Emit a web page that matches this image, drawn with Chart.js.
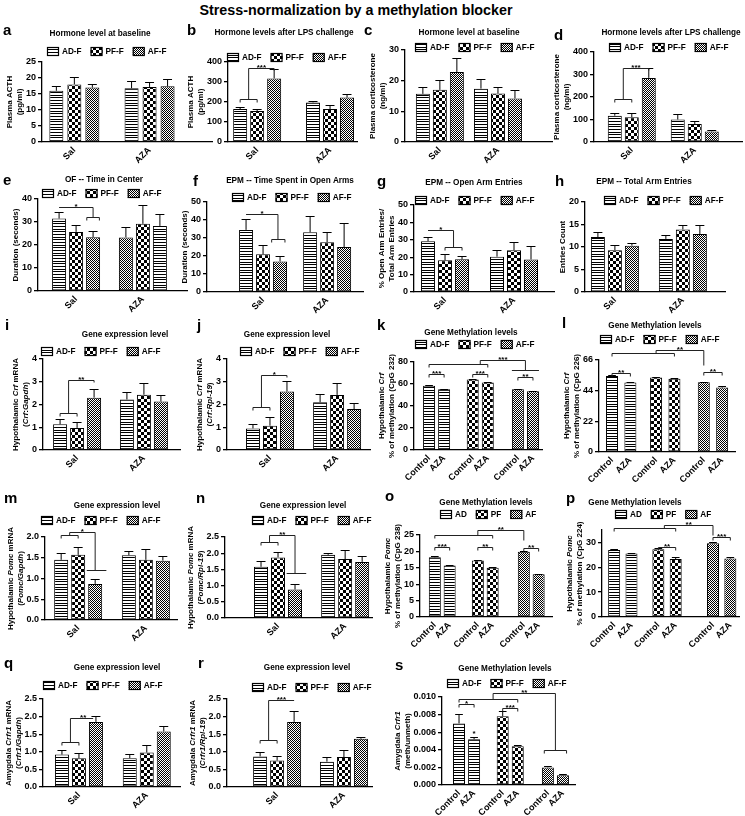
<!DOCTYPE html>
<html>
<head>
<meta charset="utf-8">
<script src="https://cdn.jsdelivr.net/npm/chart.js@4.4.1/dist/chart.umd.min.js"></script>
<style>
  html, body { margin: 0; padding: 0; background: #fff; }
  #page { position: relative; width: 745px; height: 816px; overflow: hidden; }
  #page canvas { position: absolute; }
  #title { position: absolute; left: 0; top: 2px; width: 712px; text-align: center;
           font: bold 14.3px "Liberation Sans", Arial, sans-serif; color: #000; }
</style>
</head>
<body>
<div id="page"><div id="title">Stress-normalization by a methylation blocker</div></div>
<script>
const FAM = '"Liberation Sans", Arial, sans-serif';

// categories and series
const groupLabels = ['Sal', 'AZA'];
const methLabels = ['Control', 'AZA'];
const seriesF = ['AD-F', 'PF-F', 'AF-F'];
const seriesShort = ['AD', 'PF', 'AF'];

// values: one row per series (AD, PF, AF), one column per x category
const acthBase = [[16.0, 16.8], [18.0, 17.2], [17.0, 17.4]];
const acthBaseErr = [[1.4, 2.2], [2.3, 1.6], [1.2, 2.2]];
const acthLps = [[165, 198], [155, 165], [318, 222]];
const acthLpsErr = [[12, 8], [8, 18], [45, 20]];
const corticoBase = [[15.7, 17.4], [17.0, 15.8], [22.8, 14.2]];
const corticoBaseErr = [[2.2, 3.0], [3.3, 2.0], [4.5, 2.8]];
const corticoLps = [[117, 100], [110, 80], [285, 47]];
const corticoLpsErr = [[10, 25], [18, 15], [45, 7]];
const ofCenter = [[31.5, 23.3], [25.7, 29.2], [23.4, 28.3]];
const ofCenterErr = [[3.0, 4.7], [3.0, 8.0], [2.5, 5.3]];
const epmOpenTime = [[34.5, 33.2], [21.0, 27.7], [17.0, 25.0]];
const epmOpenTimeErr = [[6.0, 9.0], [5.0, 5.5], [3.0, 13.5]];
const epmOpenEntries = [[29.2, 20.3], [18.2, 24.0], [18.8, 18.7]];
const epmOpenEntriesErr = [[2.3, 4.0], [3.5, 4.7], [2.0, 7.8]];
const epmTotalEntries = [[12.2, 11.8], [9.3, 13.9], [10.3, 12.9]];
const epmTotalEntriesErr = [[1.2, 0.8], [1.2, 1.1], [0.7, 2.0]];
const crfGapdh = [[1.13, 2.22], [0.97, 2.43], [2.30, 2.13]];
const crfGapdhErr = [[0.25, 0.35], [0.27, 0.52], [0.40, 0.28]];
const crfRpl = [[0.95, 2.10], [1.07, 2.42], [2.57, 1.80]];
const crfRplErr = [[0.20, 0.38], [0.37, 0.52], [0.48, 0.28]];
const crfMeth232 = [[58.5, 55.3], [64.2, 61.3], [55.3, 53.4]];
const crfMeth232Err = [[0.5, 0.4], [0.5, 0.5], [0.5, 0.4]];
const crfMeth226 = [[54.5, 49.8], [53.5, 52.5], [50.0, 46.2]];
const crfMeth226Err = [[0.5, 0.6], [0.4, 0.4], [0.4, 1.2]];
const pomcGapdh = [[1.45, 1.56], [1.57, 1.45], [0.87, 1.43]];
const pomcGapdhErr = [[0.17, 0.10], [0.18, 0.27], [0.12, 0.12]];
const pomcRpl = [[1.58, 1.95], [1.87, 1.82], [0.88, 1.73]];
const pomcRplErr = [[0.18, 0.05], [0.18, 0.28], [0.17, 0.17]];
const pomcMeth238 = [[18.2, 15.7], [17.2, 15.0], [19.9, 13.0]];
const pomcMeth238Err = [[0.3, 0.2], [0.2, 0.3], [0.2, 0.2]];
const pomcMeth224 = [[27.0, 25.5], [27.3, 23.3], [29.7, 23.5]];
const pomcMeth224Err = [[0.3, 0.3], [0.4, 1.0], [0.4, 0.8]];
const crfr1Gapdh = [[0.92, 0.82], [0.82, 0.98], [1.85, 1.58]];
const crfr1GapdhErr = [[0.12, 0.12], [0.15, 0.22], [0.18, 0.15]];
const crfr1Rpl = [[0.87, 0.72], [0.75, 0.85], [1.85, 1.37]];
const crfr1RplErr = [[0.12, 0.12], [0.13, 0.20], [0.30, 0.05]];
const crfr1Meth = [[0.0070, 0.0052], [0.0078, 0.0044], [0.0020, 0.0011]];
const crfr1MethErr = [[0.0011, 0.0003], [0.0006, 0.0002], [0.0002, 0.0001]];

// bar refs for the significance marks: [series, point, offset in bar widths]
const M01 = ['m', [0, 0], [1, 0]];
const M12 = ['m', [1, 0], [2, 0]];
const MP = ['m', [1, 0], [1, 1]];
const MA = ['m', [2, 0], [2, 1]];

const panels = [
  { letter: 'a', lxy: [3, 35], title: 'Hormone level at baseline', tp: [100, 34], lp: [107, 51],
    ax: 42, ax1: 212, y0: 62, y1: 142, xr: [-0.43, 1.83], yMax: 25, step: 5,
    yTitle: ['Plasma ACTH', '(pg/ml)'], vals: acthBase, errs: acthBaseErr, slot: 18, bar: 14, sig: [] },
  { letter: 'b', lxy: [187, 35], title: 'Hormone levels after LPS challenge', tp: [284, 33], lp: [287, 57],
    ax: 228, ax1: 357, y0: 62, y1: 142, xr: [-0.40, 1.37], yMax: 400, step: 100,
    yTitle: ['Plasma ACTH', '(pg/ml)'], vals: acthLps, errs: acthLpsErr,
    sig: [{ br: [[0, 0], [1, 0]], y: 215 }, { ln: [[M01, 215], [M01, 370], [[2, 0], 370], [[2, 0], 360]] },
          { s: '***', x: ['m', M01, [2, 0]], y: 370 }] },
  { letter: 'c', lxy: [364, 35], title: 'Hormone level at baseline', tp: [469, 33], lp: [475, 47],
    ax: 405, ax1: 552, y0: 50, y1: 142, xr: [-0.6, 1.93], yMax: 30, step: 10,
    yTitle: ['Plasma corticosterone', '(ng/ml)'], vals: corticoBase, errs: corticoBaseErr, sig: [] },
  { letter: 'd', lxy: [554, 40], title: 'Hormone levels after LPS challenge', tp: [671, 33], lp: [669, 47],
    ax: 594, ax1: 742, y0: 52, y1: 142, xr: [-0.6, 1.75], yMax: 400, step: 100,
    yTitle: ['Plasma corticosterone', '(ng/ml)'], vals: corticoLps, errs: corticoLpsErr,
    sig: [{ br: [[0, 0], [1, 0]], y: 190 }, { ln: [[M01, 190], [M01, 330], [[2, 0], 330], [[2, 0], 322]] },
          { s: '***', x: ['m', M01, [2, 0]], y: 330 }] },
  { letter: 'e', lxy: [3, 185], title: 'OF -- Time in Center', tp: [104, 180], lp: [102, 193],
    ax: 38, ax1: 187, y0: 199, y1: 291, xr: [-0.57, 1.66], yMax: 40, step: 10,
    yTitle: ['Duration (seconds)'], vals: ofCenter, errs: ofCenterErr,
    pats: [['stripes', 'dots'], ['checker', 'checker'], ['dots', 'stripes']],
    sig: [{ ln: [[[0, 0], 36.6], [[2, 0], 36.6], [[2, 0], 32.3]] }, { br: [[2, 0, -0.45], [2, 0, 0.45]], y: 32.3 },
          { s: '*', x: ['m', [0, 0], [2, 0]], y: 36.6 }] },
  { letter: 'f', lxy: [193, 186], title: 'EPM -- Time Spent in Open Arms', tp: [290, 181], lp: [292, 197],
    ax: 207, ax1: 363, y0: 202, y1: 292, xr: [-0.875, 1.56], yMax: 50, step: 10,
    yTitle: ['Duration (seconds)'], vals: epmOpenTime, errs: epmOpenTimeErr,
    sig: [{ ln: [[[0, 0], 43.5], [[2, 0, -0.15], 43.5], [[2, 0, -0.15], 29.6]] }, { br: [[2, 0, -0.6], [2, 0, 0.35]], y: 29.6 },
          { s: '*', x: ['m', [0, 0], [2, 0, -0.15]], y: 43.5 }] },
  { letter: 'g', lxy: [377, 186], title: 'EPM -- Open Arm Entries', tp: [474, 183], lp: [475, 200],
    ax: 414, ax1: 554, y0: 205, y1: 292, xr: [-0.45, 1.58], yMax: 50, step: 10,
    yTitle: ['% Open Arm Entries/', 'Total Arm Entries'], vals: epmOpenEntries, errs: epmOpenEntriesErr,
    sig: [{ ln: [[[0, 0], 35.4], [M12, 35.4], [M12, 25.7]] }, { br: [[1, 0], [2, 0]], y: 25.7 },
          { s: '*', x: ['m', [0, 0], M12], y: 35.4 }] },
  { letter: 'h', lxy: [555, 186], title: 'EPM -- Total Arm Entries', tp: [644, 182], lp: [664, 200],
    ax: 585, ax1: 725, y0: 202, y1: 292, xr: [-0.44, 1.62], yMax: 20, step: 5,
    yTitle: ['Entries Count'], vals: epmTotalEntries, errs: epmTotalEntriesErr, sig: [] },
  { letter: 'i', lxy: [5, 330], title: 'Gene expression level', tp: [125, 335], lp: [101, 351],
    ax: 43, ax1: 180, y0: 359, y1: 450, xr: [-0.51, 1.54], yMax: 4, step: 1,
    yTitle: ['Hypothalamic _Crf_ mRNA', '(_Crf_:_Gapdh_)'], vals: crfGapdh, errs: crfGapdhErr,
    sig: [{ br: [[0, 0], [1, 0]], y: 1.62 }, { ln: [[M01, 1.62], [M01, 3.06], [[2, 0], 3.06], [[2, 0], 2.98]] },
          { s: '**', x: ['m', M01, [2, 0]], y: 3.06 }] },
  { letter: 'j', lxy: [197, 330], title: 'Gene expression level', tp: [287, 335], lp: [300, 351],
    ax: 227, ax1: 370, y0: 359, y1: 450, xr: [-0.64, 1.49], yMax: 4, step: 1,
    yTitle: ['Hypothalamic _Crf_ mRNA', '(_Crf_:_Rpl-19_)'], vals: crfRpl, errs: crfRplErr,
    sig: [{ br: [[0, 0], [1, 0]], y: 1.88 }, { ln: [[M01, 1.88], [M01, 3.3], [[2, 0], 3.3], [[2, 0], 3.22]] },
          { s: '*', x: ['m', M01, [2, 0]], y: 3.3 }] },
  { letter: 'k', lxy: [377, 330], title: 'Gene Methylation levels', tp: [471, 333], lp: [475, 344],
    ax: 414, ax1: 542, y0: 362, y1: 450, xr: [-1.0, 7.5], pos: [0, 1, 2.9, 3.9, 5.9, 6.9], yMax: 80, step: 20,
    yTitle: ['Hypothalamic _Crf_', '% of methylation (CpG 232)'], vals: crfMeth232, errs: crfMeth232Err,
    sig: [{ br: [[0, 0], [0, 1]], y: 69.5, s: '***' }, { br: [[1, 0], [1, 1]], y: 69.5, s: '***' },
          { br: [[2, 0], [2, 1]], y: 66.5, s: '**' }, { br: [[0, 0], [1, 1]], y: 77.9 },
          { ln: [[MP, 77.9], [MP, 81.5], [MA, 81.5], [MA, 72.5]] }, { ln: [[[2, 0, -0.5], 72.5], [[2, 1, 0.5], 72.5]] },
          { s: '***', x: ['m', MP, MA], y: 81.5 }] },
  { letter: 'l', lxy: [562, 328], title: 'Gene Methylation levels', tp: [655, 326], lp: [660, 339],
    ax: 599, ax1: 735, y0: 360, y1: 452, xr: [-0.71, 6.7], pos: [0, 1, 2.4, 3.4, 5, 6], yMax: 66, step: 22,
    yTitle: ['Hypothalamic _Crf_', '% of methylation (CpG 226)'], vals: crfMeth226, errs: crfMeth226Err,
    sig: [{ br: [[0, 0], [0, 1]], y: 57, s: '**' }, { br: [[0, 0], [1, 1]], y: 71.3 },
          { ln: [[[1, 0], 71.3], [[1, 0], 73.5], [[2, 0], 73.5], [[2, 0], 62.4]] },
          { s: '**', x: ['m', [1, 0], [2, 0]], y: 73.5 }, { br: [[2, 0], [2, 1]], y: 57.6, s: '**' }] },
  { letter: 'm', lxy: [4, 503], title: 'Gene expression level', tp: [117, 506], lp: [101, 520],
    ax: 45, ax1: 177, y0: 537, y1: 620, xr: [-0.49, 1.46], yMax: 2, step: 0.5, dec: 1,
    yTitle: ['Hypothalamic _Pomc_ mRNA', '(_Pomc/Gapdh_)'], vals: pomcGapdh, errs: pomcGapdhErr,
    sig: [{ br: [[0, 0], [1, 0]], y: 2.04 }, { ln: [[M01, 2.04], [M01, 2.12], [[2, 0], 2.12], [[2, 0], 1.2]] },
          { ln: [[[2, 0, -0.6], 1.2], [[2, 0, 0.8], 1.2]] }, { s: '*', x: ['m', M01, [2, 0]], y: 2.12 }] },
  { letter: 'n', lxy: [196, 503], title: 'Gene expression level', tp: [303, 506], lp: [312, 520],
    ax: 225, ax1: 372, y0: 537, y1: 618, xr: [-0.79, 1.40], yMax: 2.5, step: 0.5, dec: 1,
    yTitle: ['Hypothalamic _Pomc_ mRNA', '(_Pomc/Rpl-19_)'], vals: pomcRpl, errs: pomcRplErr,
    sig: [{ br: [[0, 0], [1, 0]], y: 2.35 }, { ln: [[M01, 2.35], [M01, 2.55], [[2, 0], 2.55], [[2, 0], 1.38]] },
          { ln: [[[2, 0, -0.6], 1.38], [[2, 0, 0.8], 1.38]] }, { s: '**', x: ['m', M01, [2, 0]], y: 2.55 }] },
  { letter: 'o', lxy: [385, 501], title: 'Gene Methylation levels', tp: [486, 503], lp: [488, 514], short: true,
    ax: 420, ax1: 552, y0: 535, y1: 617, xr: [-1.0, 7.9], pos: [0, 1, 2.9, 3.9, 6, 7], yMax: 25, step: 5,
    yTitle: ['Hypothalamic _Pomc_', '% of methylation (CpG 238)'], vals: pomcMeth238, errs: pomcMeth238Err,
    sig: [{ br: [[0, 0], [0, 1]], y: 21.4, s: '***' }, { br: [[1, 0], [1, 1]], y: 21.4, s: '**' },
          { br: [[2, 0], [2, 1]], y: 20.9, s: '**' }, { br: [[0, 0], [1, 1]], y: 25 },
          { ln: [[[1, 0], 25], [[1, 0], 26.5], [[2, 0], 26.5], [[2, 0], 23.5]] },
          { s: '**', x: ['m', [1, 0], [2, 0]], y: 26.5 }] },
  { letter: 'p', lxy: [566, 503], title: 'Gene Methylation levels', tp: [635, 503], lp: [663, 514], short: true,
    ax: 602, ax1: 739, y0: 530, y1: 617, xr: [-0.7, 7.2], pos: [0, 1, 2.55, 3.55, 5.7, 6.7], yMax: 35, step: 5,
    yTitle: ['Hypothalamic _Pomc_', '% of methylation (CpG 224)'], vals: pomcMeth224, errs: pomcMeth224Err,
    sig: [{ br: [[0, 0], [1, 1]], y: 35.9 }, { ln: [[[1, 0, 0.5], 35.9], [[1, 0, 0.5], 37], [[2, 0], 37], [[2, 0], 33]] },
          { s: '**', x: ['m', [1, 0, 0.5], [2, 0]], y: 37 },
          { br: [[1, 0], [1, 1]], y: 28.3, s: '**' }, { br: [[2, 0], [2, 1]], y: 32.3, s: '***' }] },
  { letter: 'q', lxy: [4, 668], title: 'Gene expression level', tp: [117, 668], lp: [103, 685],
    ax: 43, ax1: 180, y0: 699, y1: 787, xr: [-0.53, 1.49], yMax: 2.5, step: 0.5, dec: 1,
    yTitle: ['Amygdala _Crfr1_ mRNA', '(_Crfr1/Gapdh_)'], vals: crfr1Gapdh, errs: crfr1GapdhErr,
    sig: [{ br: [[0, 0], [1, 0]], y: 1.29 }, { ln: [[M01, 1.29], [M01, 1.97], [[2, 0, -0.2], 1.97]] },
          { s: '**', x: ['m', M01, [2, 0]], y: 1.97 }] },
  { letter: 'r', lxy: [198, 668], title: 'Gene expression level', tp: [307, 668], lp: [312, 687],
    ax: 227, ax1: 372, y0: 699, y1: 787, xr: [-0.75, 1.42], yMax: 2.5, step: 0.5, dec: 1,
    yTitle: ['Amygdala _Crfr1_ mRNA', '(_Crfr1/Rpl-19_)'], vals: crfr1Rpl, errs: crfr1RplErr,
    sig: [{ br: [[0, 0], [1, 0]], y: 1.34 }, { ln: [[M01, 1.34], [M01, 2.48], [[2, 0], 2.48]] },
          { s: '***', x: ['m', M01, [2, 0]], y: 2.48 }] },
  { letter: 's', lxy: [395, 670], title: 'Gene Methylation levels', tp: [505, 669], lp: [507, 683],
    ax: 442, ax1: 575, y0: 697, y1: 785, xr: [-1.13, 7.7], pos: [0, 1, 2.9, 3.9, 5.9, 6.9], yMax: 0.010, step: 0.002, dec: 3,
    yTitle: ['Amygdala _Crfr1_', '(meth/unmeth)'], vals: crfr1Meth, errs: crfr1MethErr,
    sig: [{ br: [[0, 0], [0, 1]], y: 0.00917, s: '*' }, { br: [[1, 0], [1, 1]], y: 0.0088, s: '***' },
          { br: [[0, 0], [1, 1]], y: 0.0098 },
          { ln: [[[1, 0, -0.8], 0.0098], [[1, 0, -0.8], 0.0104], [MA, 0.0104], [MA, 0.0040]] },
          { br: [[2, 0, -0.3], [2, 1, 0.3]], y: 0.0040 },
          { s: '**', x: ['m', [1, 0, -0.8], MA], y: 0.0104 }, { s: '*', x: [0, 1], y: 0.0058 }] }
];

const patKeys = ['stripes', 'checker', 'dots'];

function makePatterns(ctx) {
  function tile(w, h, draw) {
    const c = document.createElement('canvas');
    c.width = w; c.height = h;
    const g = c.getContext('2d');
    g.fillStyle = '#fff'; g.fillRect(0, 0, w, h);
    g.fillStyle = '#000'; draw(g);
    return ctx.createPattern(c, 'repeat');
  }
  return {
    stripes: tile(4, 8, g => { g.fillRect(0, 0, 4, 1); g.fillRect(0, 3, 4, 1); g.fillRect(0, 5, 4, 1); }),
    checker: tile(6, 6, g => { g.fillRect(0, 0, 3, 3); g.fillRect(3, 3, 3, 3); }),
    dots: tile(2, 2, g => { g.fillRect(0, 0, 1, 1); g.fillRect(1, 1, 1, 1); })
  };
}

function drawRich(ctx, text, x, y, size) {
  const parts = text.split('_');
  const fontOf = i => (i % 2 ? 'italic ' : '') + 'bold ' + size + 'px ' + FAM;
  let total = 0;
  parts.forEach((t, i) => { ctx.font = fontOf(i); total += ctx.measureText(t).width; });
  ctx.save();
  ctx.translate(x, y);
  ctx.rotate(-Math.PI / 2);
  ctx.textBaseline = 'middle';
  ctx.textAlign = 'left';
  let cur = -total / 2;
  parts.forEach((t, i) => { ctx.font = fontOf(i); ctx.fillText(t, cur, 0); cur += ctx.measureText(t).width; });
  ctx.restore();
}

function makeOverlay(p, cx, cy) {
  function refX(chart, r) {
    if (typeof r === 'number') return chart.scales.x.getPixelForValue(r);
    if (r[0] === 'm') return (refX(chart, r[1]) + refX(chart, r[2])) / 2;
    const el = chart.getDatasetMeta(r[0]).data[r[1]];
    return el.x + (r[2] || 0) * el.width;
  }
  return {
    id: 'overlay',
    afterDraw(chart) {
      const ctx = chart.ctx, ys = chart.scales.y, area = chart.chartArea;
      const Y = v => ys.getPixelForValue(v);
      ctx.save();

      // error bars (upper only)
      ctx.strokeStyle = '#000';
      ctx.lineWidth = 1;
      chart.data.datasets.forEach((ds, di) => {
        chart.getDatasetMeta(di).data.forEach((el, i) => {
          const e = ds.errs[i];
          const yt = Math.round(Y(ds.data[i].y + e)) + 0.5;
          const hw = el.width * 0.32;
          ctx.beginPath();
          ctx.moveTo(el.x, el.y); ctx.lineTo(el.x, yt);
          ctx.moveTo(el.x - hw, yt); ctx.lineTo(el.x + hw, yt);
          ctx.stroke();
        });
      });

      // significance brackets
      ctx.strokeStyle = '#222';
      ctx.fillStyle = '#000';
      const star = (s, x, y) => {
        ctx.font = 'bold 8px ' + FAM;
        ctx.textAlign = 'center';
        ctx.textBaseline = 'alphabetic';
        ctx.fillText(s, x, y + 1);
      };
      p.sig.forEach(o => {
        if (o.br) {
          const x1 = refX(chart, o.br[0]), x2 = refX(chart, o.br[1]), y = Math.round(Y(o.y)) + 0.5;
          ctx.beginPath();
          ctx.moveTo(x1, y + 3); ctx.lineTo(x1, y); ctx.lineTo(x2, y); ctx.lineTo(x2, y + 3);
          ctx.stroke();
          if (o.s) star(o.s, (x1 + x2) / 2, y);
        } else if (o.ln) {
          ctx.beginPath();
          o.ln.forEach((pt, i) => {
            const x = refX(chart, pt[0]), y = Math.round(Y(pt[1])) + 0.5;
            if (i) ctx.lineTo(x, y); else ctx.moveTo(x, y);
          });
          ctx.stroke();
        } else if (o.s) {
          star(o.s, refX(chart, o.x), Math.round(Y(o.y)) + 0.5);
        }
      });

      // y-axis title
      ctx.fillStyle = '#000';
      ctx.font = 'bold 9px ' + FAM;
      let maxW = 0;
      ys.ticks.forEach(t => { maxW = Math.max(maxW, ctx.measureText(t.label).width); });
      const xLast = area.left - 4 - 2 - maxW - 6;
      const midY = (area.top + area.bottom) / 2;
      p.yTitle.forEach((ln, i) => drawRich(ctx, ln, xLast - (p.yTitle.length - 1 - i) * 10, midY, 8));

      // panel letter and title
      ctx.textAlign = 'left';
      ctx.textBaseline = 'alphabetic';
      ctx.font = 'bold 15px ' + FAM;
      ctx.fillText(p.letter, p.lxy[0] - cx, p.lxy[1] - cy);
      ctx.textAlign = 'center';
      ctx.textBaseline = 'middle';
      ctx.font = 'bold 8.2px ' + FAM;
      ctx.fillText(p.title, p.tp[0] - cx, p.tp[1] - cy);

      // legend
      const items = chart.data.datasets.map(d => ({
        label: d.label, fill: Array.isArray(d.backgroundColor) ? d.backgroundColor[0] : d.backgroundColor
      }));
      const bw = 12, bh = 9, gap = 3, sp = 9;
      ctx.font = 'bold 8.2px ' + FAM;
      let total = 0;
      items.forEach((it, i) => { total += bw + gap + ctx.measureText(it.label).width + (i ? sp : 0); });
      let cur = Math.round(p.lp[0] - cx - total / 2);
      const ly = Math.round(p.lp[1] - cy);
      items.forEach(it => {
        ctx.fillStyle = it.fill;
        ctx.fillRect(cur, ly - 4, bw, bh);
        ctx.strokeStyle = '#000';
        ctx.lineWidth = 1.2;
        ctx.strokeRect(cur + 0.5, ly - 3.5, bw - 1, bh - 1);
        ctx.fillStyle = '#000';
        ctx.textAlign = 'left';
        ctx.textBaseline = 'middle';
        ctx.fillText(it.label, cur + bw + gap, ly + 0.5);
        cur += bw + gap + ctx.measureText(it.label).width + sp;
      });
      ctx.restore();
    }
  };
}

const page = document.getElementById('page');

panels.forEach(p => {
  const cx = Math.max(0, Math.min(p.ax - 62, p.lxy[0] - 1));
  const cy = Math.max(0, Math.min(p.lxy[1] - 15, p.tp[1] - 8, p.y0 - 14));
  const right = Math.min(745, Math.max(p.ax1 + 10, p.tp[0] + 75, p.lp[0] + 68));
  const bottom = Math.min(816, p.y1 + 34);
  const cw = right - cx, ch = bottom - cy;

  const cv = document.createElement('canvas');
  cv.width = cw; cv.height = ch;
  cv.style.left = cx + 'px'; cv.style.top = cy + 'px';
  cv.style.width = cw + 'px'; cv.style.height = ch + 'px';
  page.appendChild(cv);
  const pat = makePatterns(cv.getContext('2d'));

  const unitPx = (p.ax1 - p.ax) / (p.xr[1] - p.xr[0]);
  const names = p.short ? seriesShort : seriesF;
  const meth = !!p.pos;
  const tickVals = meth ? p.pos : [0, 1];
  const tickText = meth ? p.pos.map((v, i) => methLabels[i % 2]) : groupLabels;
  const slot = p.slot || 17, bar = p.bar || 14;

  const datasets = p.vals.map((row, s) => {
    const ds = {
      label: names[s],
      data: row.map((v, i) => ({ x: meth ? p.pos[2 * s + i] : i, y: v })),
      errs: p.errs[s],
      backgroundColor: p.pats ? p.pats[s].map(k => pat[k]) : pat[patKeys[s]],
      borderColor: '#000',
      borderWidth: 1,
      borderSkipped: false
    };
    if (meth) {
      ds.grouped = false;
      ds.categoryPercentage = 1;
      ds.barPercentage = 12 / unitPx;
    } else {
      ds.categoryPercentage = 3 * slot / unitPx;
      ds.barPercentage = bar / slot;
    }
    return ds;
  });

  const tickFont = { family: FAM, size: 9, weight: 'bold' };
  new Chart(cv, {
    type: 'bar',
    data: { datasets },
    options: {
      responsive: false,
      animation: false,
      events: [],
      layout: { padding: { left: 0, top: p.y0 - cy, right: cw - (p.ax1 - cx), bottom: 0 } },
      plugins: { legend: { display: false }, tooltip: { enabled: false }, title: { display: false } },
      scales: {
        x: {
          type: 'linear', min: p.xr[0], max: p.xr[1], offset: false,
          afterBuildTicks: sc => { sc.ticks = tickVals.map(v => ({ value: v })); },
          ticks: {
            autoSkip: false, minRotation: 45, maxRotation: 45, padding: 1, color: '#000', font: tickFont,
            callback: v => { const k = tickVals.findIndex(t => Math.abs(t - v) < 1e-6); return k < 0 ? '' : tickText[k]; }
          },
          grid: { display: false, drawTicks: true, tickLength: 2 },
          border: { display: true, color: '#000', width: 1.3 },
          afterFit: sc => { sc.height = ch - (p.y1 - cy); }
        },
        y: {
          min: 0, max: p.yMax,
          ticks: { stepSize: p.step, color: '#000', font: tickFont, padding: 2,
                   callback: v => Number(v).toFixed(p.dec || 0) },
          grid: { drawOnChartArea: false, color: '#000', tickLength: 4, lineWidth: 1.3 },
          border: { display: true, color: '#000', width: 1.3 },
          afterFit: sc => { sc.width = p.ax - cx; }
        }
      }
    },
    plugins: [makeOverlay(p, cx, cy)]
  });
});
</script>
</body>
</html>
